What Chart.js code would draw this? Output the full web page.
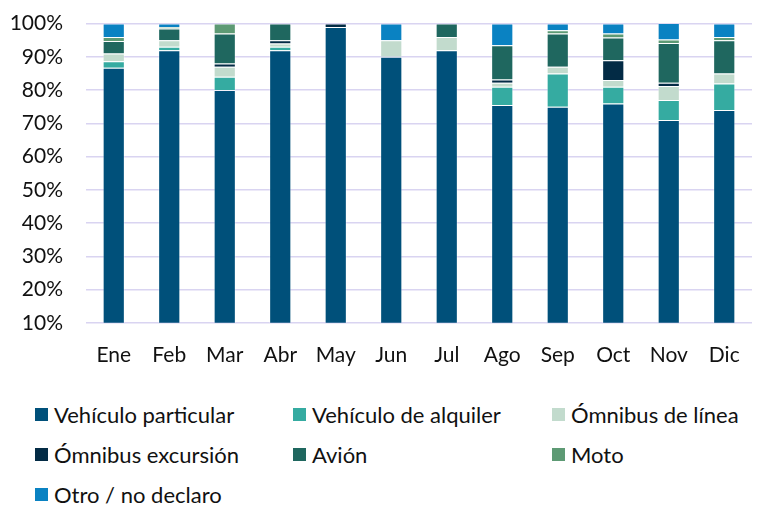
<!DOCTYPE html>
<html>
<head>
<meta charset="utf-8">
<script src="https://cdn.jsdelivr.net/npm/chart.js@4/dist/chart.umd.min.js"></script>
<style>
  body { margin: 0; background: #fff; font-family: Lato, sans-serif; overflow: hidden; }
  .wrap { position: relative; width: 760px; height: 507px; overflow: hidden; }
  .chart-box { position: absolute; left: 0; top: -12px; width: 760px; height: 402px; }
  .legend {
    position: absolute; left: 35px; top: 401px;
    display: grid; grid-template-columns: 258px 259px 200px;
    row-gap: 14px; font-size: 22px; color: #111;
  }
  .legend-item { display: flex; align-items: center; white-space: nowrap; height: 26px; }
  .legend-item span.box { width: 13px; height: 13px; margin-right: 6px; flex: none; }
</style>
</head>
<body>
<div class="wrap">
  <div class="chart-box"><canvas id="chart"></canvas></div>
  <div class="legend" id="legend"></div>
</div>
<script>
const months = ['Ene', 'Feb', 'Mar', 'Abr', 'May', 'Jun', 'Jul', 'Ago', 'Sep', 'Oct', 'Nov', 'Dic'];
const seriesNames = ['Vehículo particular', 'Vehículo de alquiler', 'Ómnibus de línea',
  'Ómnibus excursión', 'Avión', 'Moto', 'Otro / no declaro'];

// percentages per month
const particular = [86.7, 92, 80, 92, 99, 90, 92, 75.5, 75, 76, 71, 74];
const alquiler   = [2, 1, 4, 1, 0, 0, 0, 5.5, 10, 5, 6, 8];
const linea      = [2.3, 2, 3, 1, 0, 5, 4, 1.2, 2, 2, 4.2, 3];
const excursion  = [0, 0, 1, 1, 1, 0, 0, 1, 0, 6, 1, 0];
const avion      = [3.8, 3.5, 9, 5, 0, 0, 4, 10.3, 10, 6.8, 12, 10];
const moto       = [1.2, 0.5, 3, 0, 0, 0, 0, 0, 1, 1.2, 1, 1];
const otro       = [4, 1, 0, 0, 0, 5, 0, 6.5, 2, 3, 5, 4];

const colors = ['#00507a', '#35aba1', '#c2dbcd', '#032b45', '#1f675f', '#5d9a74', '#0a82c2'];
const yTicks = [10, 20, 30, 40, 50, 60, 70, 80, 90, 100];

const values = [particular, alquiler, linea, excursion, avion, moto, otro];

const chart = new Chart(document.getElementById('chart'), {
  type: 'bar',
  data: {
    labels: months,
    datasets: seriesNames.map((name, i) => ({
      label: name,
      data: values[i],
      backgroundColor: colors[i],
      borderColor: 'rgba(255,255,255,0.35)',
      borderWidth: 1,
      barPercentage: 0.4,
      categoryPercentage: 1
    }))
  },
  options: {
    responsive: true,
    maintainAspectRatio: false,
    animation: false,
    layout: { padding: { top: 0, left: 0, right: 8, bottom: 2 } },
    plugins: { legend: { display: false }, tooltip: { enabled: false } },
    scales: {
      x: {
        stacked: true,
        grid: { display: false, drawTicks: false },
        border: { display: false },
        ticks: { color: '#111', font: { family: 'Lato', size: 21 }, padding: 20 }
      },
      y: {
        stacked: true,
        min: 10,
        max: 100,
        afterBuildTicks: axis => { axis.ticks = yTicks.map(v => ({ value: v })); },
        afterFit: axis => { axis.width = 86; },
        grid: { color: '#d9d4f1', lineWidth: 1.5, drawTicks: false },
        border: { display: false },
        ticks: {
          color: '#111', font: { family: 'Lato', size: 21 }, padding: 23,
          callback: v => v + '%'
        }
      }
    }
  }
});

const legend = document.getElementById('legend');
chart.data.datasets.forEach(ds => {
  const item = document.createElement('div');
  item.className = 'legend-item';
  item.innerHTML = '<span class="box" style="background:' + ds.backgroundColor + '"></span>' + ds.label;
  legend.appendChild(item);
});
</script>
</body>
</html>
